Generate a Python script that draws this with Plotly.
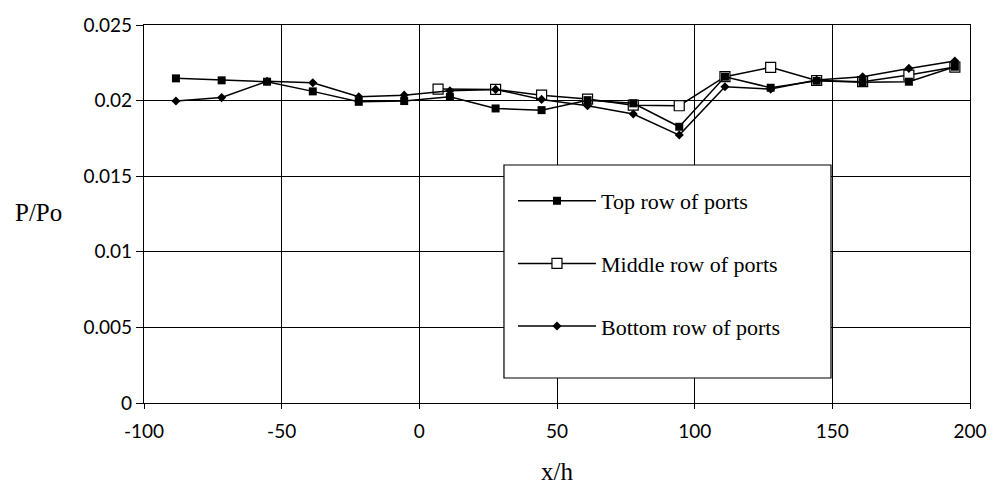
import plotly.graph_objects as go

x_pos = [-88.4, -71.8, -55.3, -38.7, -22.0, -5.5, 11.1, 27.7, 44.4,
         61.1, 77.7, 94.4, 111.0, 127.6, 144.3, 161.0, 177.8, 194.5]
x_mid = [6.8, 27.7, 44.4, 61.1, 77.7, 94.4, 111.0, 127.6, 144.3, 161.0, 177.8, 194.5]

top_row = [0.02147, 0.02134, 0.02125, 0.02061, 0.01992, 0.01997, 0.02025, 0.01948, 0.01937,
           0.02003, 0.01982, 0.01827, 0.02158, 0.02085, 0.02131, 0.02122, 0.02125, 0.02224]
middle_row = [0.02076, 0.02074, 0.02036, 0.02010, 0.01970, 0.01966,
              0.02158, 0.02220, 0.02133, 0.02125, 0.02169, 0.02222]
bottom_row = [0.01997, 0.02020, 0.02128, 0.02118, 0.02025, 0.02036, 0.02065, 0.02074, 0.02008,
              0.01966, 0.01911, 0.01772, 0.02092, 0.02076, 0.02136, 0.02158, 0.02213, 0.02262]

series_names = ["Top row of ports", "Middle row of ports", "Bottom row of ports"]

x_ticks = [-100, -50, 0, 50, 100, 150, 200]
x_ticktext = ["-100", "-50", "0", "50", "100", "150", "200"]
y_ticks = [0, 0.005, 0.01, 0.015, 0.02, 0.025]
y_ticktext = ["0", "0.005", "0.01", "0.015", "0.02", "0.025"]

serif = "Liberation Serif"
tickfont = dict(family="Lato", size=19, color="black")

fig = go.Figure()
fig.add_trace(go.Scatter(
    x=x_mid, y=middle_row, name=series_names[1], mode="lines+markers", legendgroup="b",
    legendrank=2,
    line=dict(color="black", width=1.5),
    marker=dict(symbol="square", size=10, color="white", line=dict(color="black", width=1.2))))
fig.add_trace(go.Scatter(
    x=x_pos, y=bottom_row, name=series_names[2], mode="lines+markers", legendgroup="c",
    legendrank=3,
    line=dict(color="black", width=1.5),
    marker=dict(symbol="diamond", size=7, color="black")))
fig.add_trace(go.Scatter(
    x=x_pos, y=top_row, name=series_names[0], mode="lines+markers", legendgroup="a",
    legendrank=1,
    line=dict(color="black", width=1.5),
    marker=dict(symbol="square", size=8, color="black")))

fig.add_shape(type="rect", xref="paper", yref="paper", x0=0.4358, x1=0.8317, y0=0.0661, y1=0.6296,
              line=dict(color="black", width=1.2), fillcolor="white", layer="above")

fig.update_layout(
    width=987, height=482,
    margin=dict(l=136, r=25, t=17, b=87, autoexpand=False),
    paper_bgcolor="white", plot_bgcolor="white",
    showlegend=True,
    legend=dict(x=0.4467, y=0.59, xanchor="left", yanchor="top",
                bgcolor="rgba(0,0,0,0)", borderwidth=0,
                font=dict(family=serif, size=22, color="black"),
                itemwidth=78, tracegroupgap=31),
    xaxis=dict(range=[-100, 200], tickvals=x_ticks, ticktext=x_ticktext, automargin=False,
               showgrid=True, gridcolor="black", gridwidth=1,
               zeroline=False, showline=True, linecolor="black", linewidth=1.2, mirror=True,
               ticks="outside", ticklen=5, tickcolor="black", tickfont=tickfont,
               ticklabelstandoff=6),
    yaxis=dict(range=[0, 0.025], tickvals=y_ticks, ticktext=y_ticktext, automargin=False,
               showgrid=True, gridcolor="black", gridwidth=1,
               zeroline=False, showline=True, linecolor="black", linewidth=1.2, mirror=True,
               ticks="outside", ticklen=7, tickcolor="black", tickfont=tickfont),
    annotations=[
        dict(text="P/Po", xref="paper", yref="paper", x=-0.128, y=0.505, showarrow=False,
             xanchor="center", yanchor="middle", font=dict(family=serif, size=25, color="black")),
        dict(text="x/h", xref="paper", yref="paper", x=0.5, y=-0.18, showarrow=False,
             xanchor="center", yanchor="middle", font=dict(family=serif, size=25, color="black")),
    ],
)

fig.write_html("out.html")
